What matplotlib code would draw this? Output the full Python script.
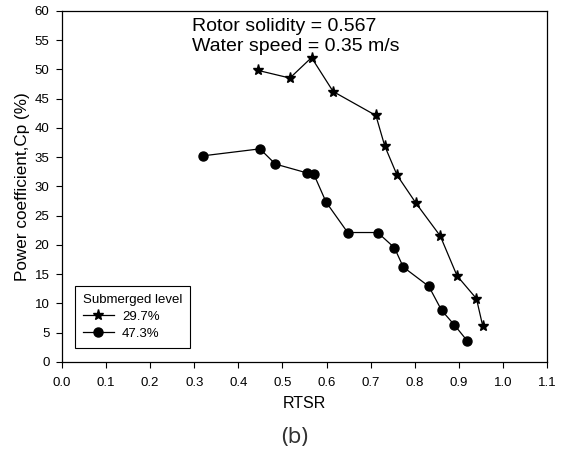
import matplotlib.pyplot as plt

plt.rcParams['font.family'] = ['Liberation Sans', 'DejaVu Sans']

# RTSR i Cp dla dwóch poziomów zanurzenia
rtsr_297 = [0.445, 0.517, 0.566, 0.615, 0.712, 0.732, 0.760, 0.803, 0.858, 0.896, 0.940, 0.954]
cp_297 = [49.8, 48.5, 52.0, 46.2, 42.1, 36.9, 31.9, 27.1, 21.5, 14.7, 10.8, 6.2]

rtsr_473 = [0.319, 0.449, 0.484, 0.555, 0.571, 0.599, 0.648, 0.716, 0.754, 0.774, 0.832, 0.861, 0.890, 0.919]
cp_473 = [35.2, 36.4, 33.8, 32.3, 32.1, 27.3, 22.1, 22.1, 19.5, 16.2, 12.9, 8.8, 6.3, 3.6]

labels = ['29.7%', '47.3%']

fig = plt.figure(figsize=(5.63, 4.54), dpi=100)
ax = fig.add_axes([0.110, 0.203, 0.8616, 0.7733])

ax.plot(rtsr_297, cp_297, color='black', lw=0.9, marker='*', markersize=8, label=labels[0])
ax.plot(rtsr_473, cp_473, color='black', lw=0.9, marker='o', markersize=6.5, label=labels[1])

ax.set_xlim(0, 1.1)
ax.set_ylim(0, 60)
ax.set_xticks([i / 10 for i in range(12)])
ax.set_xticklabels([f'{i / 10:.1f}' for i in range(12)])
ax.set_yticks(range(0, 61, 5))
ax.tick_params(direction='out', length=4, width=0.8, labelsize=9.5)
ax.tick_params(axis='x', pad=7)
ax.tick_params(axis='y', pad=5)
for s in ax.spines.values():
    s.set_linewidth(0.9)

ax.set_xlabel('RTSR', fontsize=11.5, labelpad=5)
ax.set_ylabel('Power coefficient,Cp (%)', fontsize=12.3, labelpad=3)

ax.text(0.269, 0.978, 'Rotor solidity = 0.567\nWater speed = 0.35 m/s',
        transform=ax.transAxes, ha='left', va='top', fontsize=14, linespacing=1.2)

leg = ax.legend(title='Submerged level', loc='lower left', bbox_to_anchor=(0.027, 0.04),
                fontsize=9.5, title_fontsize=9.5, fancybox=False, edgecolor='black',
                framealpha=1, handlelength=2.35, borderpad=0.6, labelspacing=0.35,
                borderaxespad=0, handletextpad=0.6)
leg.get_frame().set_linewidth(0.8)
leg._legend_box.align = 'left'

fig.text(0.524, 0.036, '(b)', ha='center', va='center', fontsize=16,
         family=['Noto Sans', 'DejaVu Sans'], fontweight='light', color='#333333')

fig.savefig('out.png', dpi=100)
